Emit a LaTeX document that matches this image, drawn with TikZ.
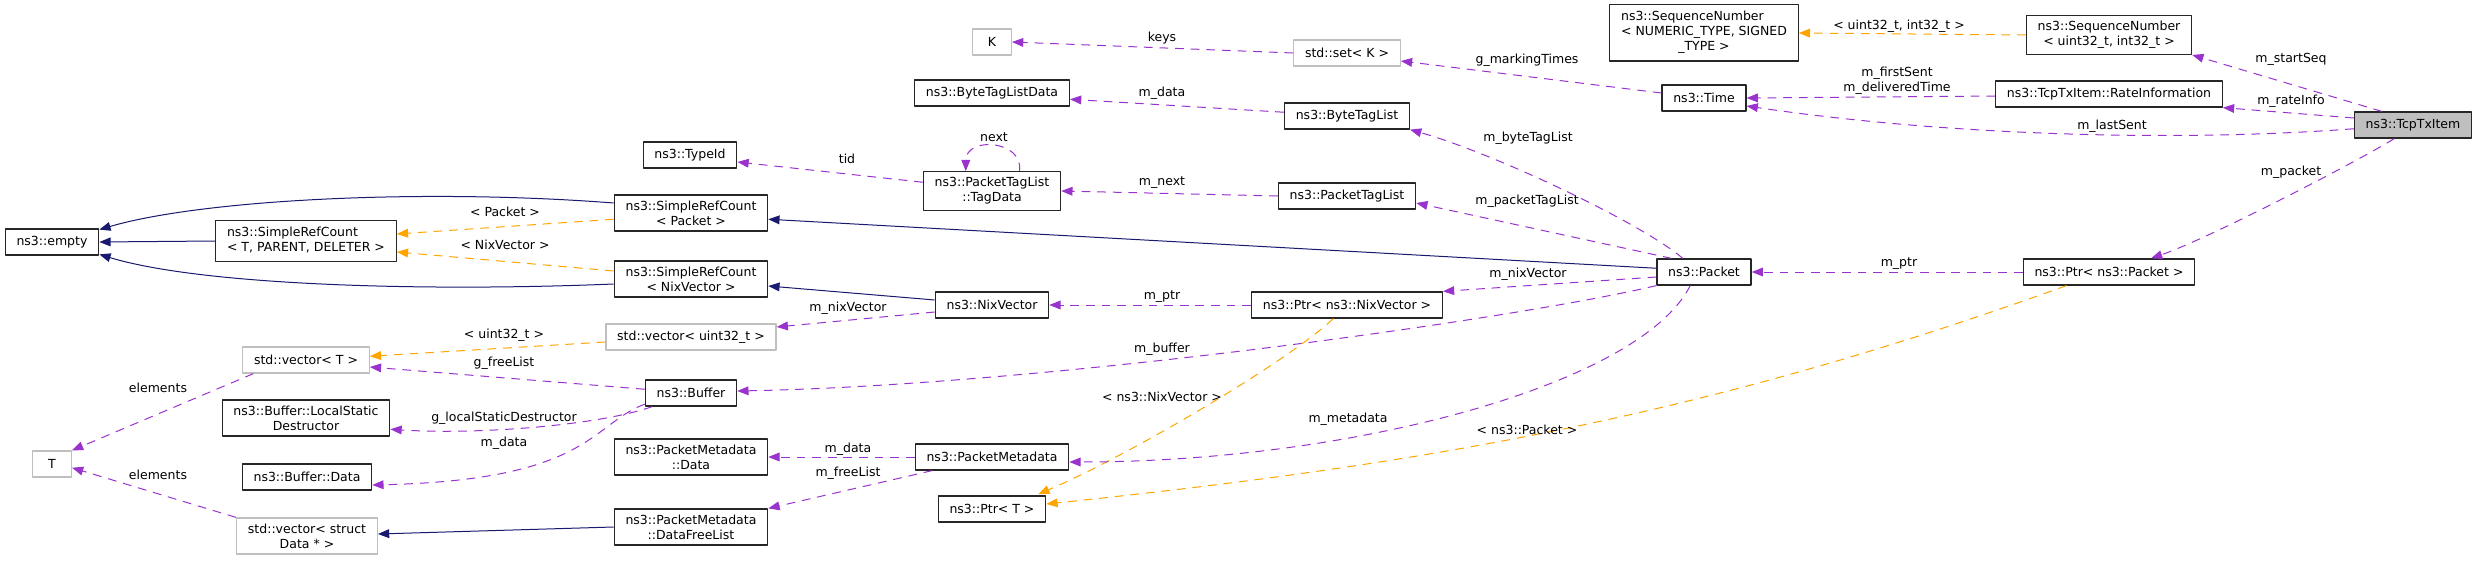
\documentclass[tikz,border=0pt]{standalone}
\usepackage{fontspec}
\setmainfont{DejaVu Sans}
\usetikzlibrary{arrows.meta}
\definecolor{memcol}{HTML}{9A32CD}
\definecolor{tmplcol}{HTML}{FFA500}
\definecolor{inhcol}{HTML}{191970}
\begin{document}
\begin{tikzpicture}[x=0.8pt,y=-0.8pt,line join=round,
  font=\fontsize{10}{12}\selectfont,
  cls/.style={draw=black!85,line width=1pt,inner xsep=9pt,inner ysep=4.5pt,
    minimum height=20.8pt,minimum width=31pt,align=center},
  ext/.style={cls,draw=black!25},
  mem/.style={draw=memcol,line width=0.8pt,dash pattern=on 7pt off 5.5pt,
    -{Triangle[length=9pt,width=7pt,fill=memcol]}},
  tmpl/.style={mem,draw=tmplcol,-{Triangle[length=9pt,width=7pt,fill=tmplcol]}},
  inh/.style={draw=inhcol,line width=0.8pt,-{Triangle[length=9pt,width=7pt,fill=inhcol]}},
  lbl/.style={inner sep=0pt,align=center}]
  \useasboundingbox (0,0) rectangle (2479,562);
  \node[cls] (empty) at (52,242) {ns3::empty};
  \node[cls] (srcT) at (306,241) {\begin{tabular}{@{}l@{}}ns3::SimpleRefCount\\< T, PARENT, DELETER >\end{tabular}};
  \node[cls] (srcP) at (691,213) {ns3::SimpleRefCount\\< Packet >};
  \node[cls] (srcN) at (691,279) {ns3::SimpleRefCount\\< NixVector >};
  \node[cls] (typeid) at (690,155) {ns3::TypeId};
  \node[ext] (K) at (992,42) {K};
  \node[cls] (bytedata) at (992,93) {ns3::ByteTagListData};
  \node[cls] (tagdata) at (992,191) {ns3::PacketTagList\\::TagData};
  \node[ext] (setk) at (1347,53) {std::set< K >};
  \node[cls] (bytetag) at (1347,116) {ns3::ByteTagList};
  \node[cls] (pkttag) at (1347,196) {ns3::PacketTagList};
  \node[cls] (seqgen) at (1704,33) {\begin{tabular}{@{}l@{}}ns3::SequenceNumber\\< NUMERIC\_TYPE, SIGNED\\\multicolumn{1}{@{}c@{}}{\_TYPE >}\end{tabular}};
  \node[cls] (time) at (1704,98) {ns3::Time};
  \node[cls] (packet) at (1704,272) {ns3::Packet};
  \node[cls] (seq) at (2109,35) {ns3::SequenceNumber\\< uint32\_t, int32\_t >};
  \node[cls] (rateinfo) at (2109,94) {ns3::TcpTxItem::RateInformation};
  \node[cls,fill=black!25] (tcptx) at (2413,125) {ns3::TcpTxItem};
  \node[cls] (ptrpkt) at (2109,272) {ns3::Ptr< ns3::Packet >};
  \node[cls] (nixvec) at (992,305) {ns3::NixVector};
  \node[cls] (ptrnix) at (1347,305) {ns3::Ptr< ns3::NixVector >};
  \node[ext] (vecu32) at (691,337) {std::vector< uint32\_t >};
  \node[ext] (vecT) at (306,360) {std::vector< T >};
  \node[cls] (buffer) at (691,393) {ns3::Buffer};
  \node[cls] (lsd) at (306,418) {ns3::Buffer::LocalStatic\\Destructor};
  \node[cls] (bufdata) at (307,477) {ns3::Buffer::Data};
  \node[ext] (T) at (52,464) {T};
  \node[ext] (vecdata) at (307,536) {std::vector< struct\\Data * >};
  \node[cls] (pmdata) at (691,457) {ns3::PacketMetadata\\::Data};
  \node[cls] (freelist) at (691,527) {ns3::PacketMetadata\\::DataFreeList};
  \node[cls] (pmeta) at (992,457) {ns3::PacketMetadata};
  \node[cls] (ptrT) at (992,509) {ns3::Ptr< T >};

  \draw[inh] ([yshift=8pt]srcP.west) .. controls (420,188) and (200,200) .. ([yshift=-1pt]empty.north east);
  \draw[inh] (srcT.west) -- (empty.east);
  \draw[inh] ([yshift=-4pt]srcN.west) .. controls (420,292) and (200,285) .. ([yshift=1pt]empty.south east);
  \draw[inh] ([yshift=3pt]packet.west) -- ([yshift=-5pt]srcP.east);
  \draw[inh] ([yshift=4pt]nixvec.west) -- ([yshift=-5.6pt]srcN.east);
  \draw[inh] (freelist.west) -- ([yshift=1.6pt]vecdata.east);

  \draw[tmpl] ([yshift=-5pt]srcP.west) -- ([yshift=5.6pt]srcT.east);
  \node[lbl] (l-pkt) at (505,212) {< Packet >};
  \draw[tmpl] ([yshift=6.4pt]srcN.west) -- ([yshift=-8.8pt]srcT.east);
  \node[lbl] (l-nix) at (505,245) {< NixVector >};
  \draw[tmpl] (seq.west) -- (seqgen.east);
  \node[lbl] (l-seq) at (1899,26) {< uint32\_t, int32\_t >};
  \draw[tmpl] ([xshift=-34pt]ptrpkt.south) .. controls (1716,412) and (1447,462) .. ([yshift=4pt]ptrT.east);
  \node[lbl] (l-ptrpkt) at (1527,430) {< ns3::Packet >};
  \draw[tmpl] ([xshift=-11pt]ptrnix.south) .. controls (1290,360) and (1130,455) .. ([xshift=37pt,yshift=1pt]ptrT.north);
  \node[lbl] (l-ptrnix) at (1162,397) {< ns3::NixVector >};
  \draw[tmpl] ([yshift=-4pt]vecu32.west) -- ([yshift=3pt]vecT.east);
  \node[lbl] (l-u32) at (504,335) {< uint32\_t >};

  \draw[mem] (setk.west) -- (K.east);
  \node[lbl] (l-keys) at (1162,38) {keys};
  \draw[mem] ([yshift=3pt]bytetag.west) -- ([yshift=-5pt]bytedata.east);
  \node[lbl] (l-bdata) at (1162,93) {m\_data};
  \draw[mem] ([yshift=7pt]tagdata.west) -- ([yshift=-5.6pt]typeid.east);
  \node[lbl] (l-tid) at (847,159) {tid};
  \draw[mem] ([xshift=22pt]tagdata.north) .. controls (1024,140) and (966,136) .. ([xshift=-21pt]tagdata.north);
  \node[lbl] (l-next) at (994,137) {next};
  \draw[mem] (pkttag.west) -- (tagdata.east);
  \node[lbl] (l-mnext) at (1162,183) {m\_next};
  \draw[mem] ([yshift=4pt]time.west) -- ([yshift=-6.4pt]setk.east);
  \node[lbl] (l-mark) at (1527,60) {g\_markingTimes};
  \draw[mem] ([xshift=-17pt]packet.north) .. controls (1643,224) and (1496,154) .. (bytetag.south east);
  \node[lbl] (l-btl) at (1528,138) {m\_byteTagList};
  \draw[mem] ([xshift=-26pt]packet.north) -- ([yshift=-5.6pt]pkttag.east);
  \node[lbl] (l-ptl) at (1527,201) {m\_packetTagList};
  \draw[mem] ([yshift=-1.6pt]rateinfo.west) -- (time.east);
  \node[lbl] (l-first) at (1897,81) {m\_firstSent\\m\_deliveredTime};
  \draw[mem] ([yshift=-3pt]tcptx.west) .. controls (2180,142) and (1950,136) .. ([yshift=-6.4pt]time.east);
  \node[lbl] (l-last) at (2112,126) {m\_lastSent};
  \draw[mem] ([xshift=-25pt]tcptx.north) -- (seq.south east);
  \node[lbl] (l-start) at (2291,59) {m\_startSeq};
  \draw[mem] ([yshift=5.6pt]tcptx.west) -- (rateinfo.south east);
  \node[lbl] (l-rate) at (2291,101) {m\_rateInfo};
  \draw[mem] ([xshift=-15pt]tcptx.south) .. controls (2360,160) and (2210,238) .. ([xshift=33.6pt]ptrpkt.north);
  \node[lbl] (l-packet) at (2291,172) {m\_packet};
  \draw[mem] (ptrpkt.west) -- (packet.east);
  \node[lbl] (l-ptr1) at (1899,264) {m\_ptr};
  \draw[mem] ([yshift=-4pt]packet.west) -- (ptrnix.north east);
  \node[lbl] (l-nixv1) at (1528,274) {m\_nixVector};
  \draw[mem] (ptrnix.west) -- (nixvec.east);
  \node[lbl] (l-ptr2) at (1162,297) {m\_ptr};
  \draw[mem] ([yshift=-5.6pt]nixvec.west) -- ([yshift=8pt]vecu32.east);
  \node[lbl] (l-nixv2) at (848,308) {m\_nixVector};
  \draw[mem] ([yshift=3pt]buffer.west) -- ([yshift=-5.6pt]vecT.east);
  \node[lbl] (l-free) at (504,363) {g\_freeList};
  \draw[mem] (packet.south west) .. controls (1520,318) and (1050,385) .. ([yshift=1.6pt]buffer.east);
  \node[lbl] (l-buf) at (1162,349) {m\_buffer};
  \draw[mem] ([xshift=6pt]buffer.south west) .. controls (600,425) and (480,435) .. ([yshift=-9pt]lsd.east);
  \node[lbl] (l-lsd) at (504,418) {g\_localStaticDestructor};
  \draw[mem] ([yshift=2pt]buffer.south west) .. controls (590,425) and (590,480) .. ([yshift=-6.4pt]bufdata.east);
  \node[lbl] (l-mdata) at (504,443) {m\_data};
  \draw[mem] ([xshift=9pt]vecT.south west) -- (T.north east);
  \node[lbl] (l-el1) at (158,388) {elements};
  \draw[mem] (vecdata.north west) -- ([yshift=-3pt]T.east);
  \node[lbl] (l-el2) at (158,475) {elements};
  \draw[mem] ([xshift=-11pt]packet.south) .. controls (1640,385) and (1350,462) .. ([yshift=-4pt]pmeta.east);
  \node[lbl] (l-meta) at (1348,419) {m\_metadata};
  \draw[mem] (pmeta.west) -- (pmdata.east);
  \node[lbl] (l-pmd) at (848,449) {m\_data};
  \draw[mem] ([xshift=14pt]pmeta.south west) -- (freelist.north east);
  \node[lbl] (l-fl) at (848,473) {m\_freeList};
\end{tikzpicture}
\end{document}
